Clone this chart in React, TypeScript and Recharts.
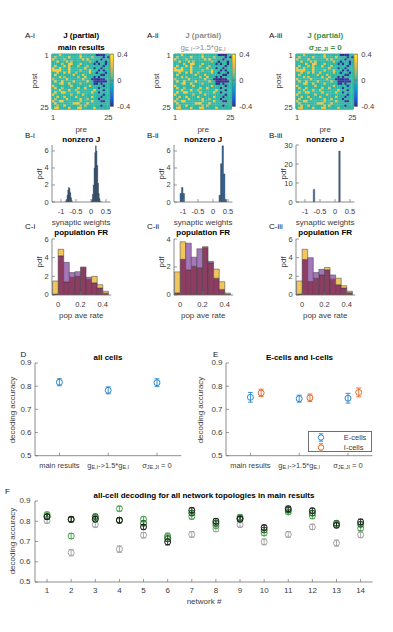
import React from 'react';
import {
  ScatterChart, Scatter, BarChart, Bar, Cell, XAxis, YAxis, ErrorBar, ReferenceArea, Legend,
} from 'recharts';

const FONT = '"Liberation Sans", Arial, Helvetica, sans-serif';
const INK = '#3c3c3c';
const FRAME = '#707070';
const GREY_TITLE = '#8f8f8f';
const GREEN_TITLE = '#3f8f3f';

// ---- A: J (partial), first 25x25 block of the weight matrix
// '.' = 0, 'y' strong E, 'o' weaker E, 'b' I weight  (groups of 5 columns)
const J_ROWS = [
  '...y.|.....|..o..|....b|bbb..',
  '.o...|..y..|..y..|..o..|..b.b',
  'y....|o....|...y.|y....|.b...',
  '..y..|.y.o.|.....|.o..b|...b.',
  '....o|..yy.|..y..|...b.|b..b.',
  '.y...|y.y..|.o...|o....|..b..',
  'y..y.|..y..|....y|...b.|.b...',
  'yyyy.|..y..|..o..|.y...|b.b..',
  '..y..|y.y..|o....|.y..b|...b.',
  '.y...|....y|...y.|.....|.bb..',
  '...y.|o....|.o..y|...b.|b....',
  'o....|.y...|...y.|..bbb|bbb..',
  '.y..y|....y|.....|y..bb|bbbb.',
  '...oy|..y..|..o..|...bb|.b...',
  'y....|...y.|.....|.y...|..b..',
  '.y..o|.....|.y..y|.....|b....',
  '...y.|..y..|o....|...y.|..b..',
  '.y..y|y....|.y...|..y..|b....',
  'y....|...o.|...y.|.....|..b..',
  '..y..|y....|y....|..y..|.b...',
  '.o...|.y...|..y..|o....|b....',
  'y..yy|.....|..o..|..y..|.bb..',
  '.y...|....y|yy...|y....|.....',
  '..o..|y....|..o.o|.....|.b...',
  '.yy..|..y..|.yy..|...y.|.....',
];
const J_LEVEL_MAIN: Record<string, number> = { '.': 0, y: 0.3, o: 0.2, b: -0.38 };
const J_LEVEL_GEI: Record<string, number> = { '.': 0, y: 0.3, o: 0.2, b: -0.4 };
const J_LEVEL_SIG0: Record<string, number> = { '.': 0, y: 0.27, o: 0.27, b: -0.38 };
const CB_TICKS = [-0.4, 0, 0.4];
const CELL_TICKS = [1, 25];

// ---- B: nonzero J histograms (bin centre, pdf)
const WEIGHT_TICKS = [-1, -0.5, 0, 0.5];
const W_MAIN_X = [-0.8375, -0.8125, -0.7875, -0.7625, -0.7375, -0.7125, -0.6875, -0.6625, -0.6375,
  0.0125, 0.0375, 0.0625, 0.0875, 0.1125, 0.1375, 0.1625, 0.1875, 0.2125, 0.2375, 0.2625, 0.2875, 0.3125];
const W_MAIN_PDF = [0.1, 0.3, 0.8, 1.4, 1.7, 1.6, 1.1, 0.5, 0.15,
  0.1, 0.3, 0.9, 2.0, 4.0, 5.8, 6.6, 6.0, 4.3, 2.2, 1.0, 0.4, 0.1];
const W_GEI_X = [-1.075, -1.025, -0.975, 0.225, 0.275, 0.325, 0.375, 0.425];
const W_GEI_PDF = [1.0, 1.7, 1.0, 0.8, 4.5, 6.6, 3.3, 0.3];
const W_SIG0_X = [-0.75, -0.7, -0.65, 0.1, 0.15, 0.2];
const W_SIG0_PDF = [0, 6.6, 0, 0, 26.8, 0];

// ---- C: population FR histograms (yellow / purple)
const FR_BINS = [-0.025, 0.025, 0.075, 0.125, 0.175, 0.225, 0.275, 0.325, 0.375, 0.425];
const FR_TICKS = [0, 0.2, 0.4];
const FR_MAIN_Y = [1.5, 4.9, 1.4, 1.9, 2.0, 3.0, 1.7, 2.0, 1.1, 0.4];
const FR_MAIN_P = [0.1, 4.2, 3.5, 2.4, 2.5, 2.95, 1.9, 1.3, 0.75, 0.2];
const FR_GEI_Y = [1.65, 3.8, 1.8, 2.05, 1.95, 3.45, 2.3, 1.85, 0.95, 0.14];
const FR_GEI_P = [0.15, 2.55, 3.7, 2.7, 3.3, 3.4, 2.4, 1.2, 0.4, 0.05];
const FR_SIG0_Y = [1.5, 4.9, 1.45, 1.8, 2.15, 2.95, 1.7, 1.8, 1.0, 0.4];
const FR_SIG0_P = [0.1, 3.8, 4.0, 2.4, 2.75, 2.7, 2.15, 1.1, 0.75, 0.25];

// ---- D / E: decoding accuracy per condition
const CONDITIONS = [1, 2, 3];
const ACC_TICKS = [0.5, 0.6, 0.7, 0.8, 0.9];
const ALL_ACC = [0.817, 0.782, 0.815];
const ALL_ERR = [0.015, 0.015, 0.017];
const E_ACC = [0.752, 0.746, 0.748];
const E_ERR = [0.021, 0.015, 0.021];
const I_ACC = [0.771, 0.75, 0.773];
const I_ERR = [0.016, 0.016, 0.019];
const I_DODGE = 0.22;

// ---- F: all-cell decoding per network
const NETWORKS = [1, 2, 3, 4, 5, 6, 7, 8, 9, 10, 11, 12, 13, 14];
const NET_MAIN = [0.822, 0.81, 0.81, 0.805, 0.772, 0.698, 0.854, 0.8, 0.81, 0.769, 0.862, 0.852, 0.78, 0.797];
const NET_MAIN_ERR = [0.012, 0.012, 0.012, 0.013, 0.012, 0.015, 0.012, 0.013, 0.012, 0.012, 0.012, 0.012, 0.012, 0.013];
const NET_DK = [0.823, 0.808, 0.823, 0.805, 0.79, 0.714, 0.84, 0.79, 0.815, 0.757, 0.855, 0.84, 0.79, 0.785];
const NET_DK_ERR = [0.012, 0.012, 0.012, 0.012, 0.012, 0.014, 0.012, 0.012, 0.012, 0.012, 0.012, 0.012, 0.012, 0.012];
const NET_LT = [0.833, 0.727, 0.816, 0.862, 0.81, 0.727, 0.823, 0.778, 0.82, 0.742, 0.846, 0.826, 0.783, 0.765];
const NET_LT_ERR = [0.012, 0.013, 0.012, 0.012, 0.012, 0.014, 0.012, 0.012, 0.012, 0.013, 0.012, 0.013, 0.013, 0.012];
const NET_GEI = [0.803, 0.645, 0.783, 0.662, 0.731, 0.722, 0.735, 0.762, 0.783, 0.698, 0.735, 0.772, 0.692, 0.733];
const NET_GEI_ERR = [0.012, 0.016, 0.012, 0.016, 0.013, 0.015, 0.014, 0.013, 0.012, 0.014, 0.014, 0.013, 0.015, 0.014];

// ---------------------------------------------------------------------------

const PARULA = ['#352a87', '#0f5cdd', '#1481d6', '#06a4ca', '#2eb7a4', '#87bf77', '#d1bb59', '#fec832', '#f9fb0e'];
const rgbOf = (h: string) => [1, 3, 5].map((i) => parseInt(h.slice(i, i + 2), 16));
function parula(v: number) {
  const t = Math.max(0, Math.min(1, (v + 0.4) / 0.8)) * (PARULA.length - 1);
  const i = Math.min(PARULA.length - 2, Math.floor(t));
  const f = t - i;
  const a = rgbOf(PARULA[i]);
  const b = rgbOf(PARULA[i + 1]);
  return `rgb(${a.map((c, k) => Math.round(c + (b[k] - c) * f)).join(',')})`;
}

const heatCells = (levels: Record<string, number>) =>
  J_ROWS.flatMap((row, r) =>
    row.replace(/\|/g, '').split('').map((ch, c) => ({ c: c + 1, r: r + 1, v: levels[ch] ?? 0 })),
  );

const AXIS = {
  interval: 0,
  tickSize: -3,
  tickMargin: 3,
  axisLine: { stroke: FRAME, strokeWidth: 0.8 },
  tickLine: { stroke: FRAME, strokeWidth: 0.7 },
};

const tickText = (dx: number, dy: number, anchor: string, size: number, fmt: (v: number) => string = (v) => String(v)) =>
  (p: any) => (
    <text x={p.x + dx} y={p.y + dy} textAnchor={anchor} dominantBaseline="central" fontSize={size} fill={INK} fontFamily={FONT}>
      {fmt(p.payload.value)}
    </text>
  );

type Seg = [string, boolean?];
const segs = (parts: Seg[], sub: number) =>
  parts.map(([t, s], i) => (
    <tspan key={i} fontSize={s ? sub : undefined} dy={s ? 2 : i > 0 && parts[i - 1][1] ? -2 : 0}>{t}</tspan>
  ));

const CONDITION_LABELS: Seg[][] = [
  [['main results']],
  [['g'], ['E,I', true], ['->1.5*g'], ['E,I', true]],
  [['σ'], ['JE,JI', true], [' = 0']],
];

const condTick = (p: any) => (
  <text x={p.x} y={p.y + 9.5} textAnchor="middle" dominantBaseline="central" fontSize={7.5} fill={INK} fontFamily={FONT}>
    {segs(CONDITION_LABELS[p.payload.value - 1], 5.5)}
  </text>
);

const ring = (p: any) => <circle cx={p.cx} cy={p.cy} r={3} fill="none" stroke={p.fill} strokeWidth={1} />;

// ---------------------------------------------------------------------------
const HM_TOP = 53.5;
const HM_W = 57.5;
const HM_H = 55;

function Heatmap({ ox, levels, gid }: { ox: number; levels: Record<string, number>; gid: string }) {
  const x0 = 52.3 + ox;
  const L = 16, T = 2, R = 6, B = 14;
  const cw = HM_W / 25, ch = HM_H / 25;
  const cells = heatCells(levels);
  const cb = [{ k: 'cb', span: [-0.4, 0.4] }];
  return (
    <>
      <div style={{ position: 'absolute', left: x0 - L, top: HM_TOP - T }}>
        <ScatterChart width={HM_W + L + R} height={HM_H + T + B} margin={{ top: T, right: R, bottom: 0, left: 0 }}>
          <XAxis type="number" dataKey="c" domain={[0.5, 25.5]} ticks={CELL_TICKS} allowDataOverflow height={B}
            tick={tickText(0, 8.8, 'middle', 7.5)} {...AXIS} />
          <YAxis type="number" dataKey="r" domain={[0.5, 25.5]} ticks={CELL_TICKS} reversed allowDataOverflow width={L}
            tick={tickText(-3.3, 0, 'end', 7.5)} {...AXIS} />
          <Scatter data={cells} isAnimationActive={false}
            shape={(p: any) => (
              <rect x={p.cx - cw / 2} y={p.cy - ch / 2} width={cw + 0.2} height={ch + 0.2} fill={parula(p.payload.v)} />
            )} />
          <ReferenceArea x1={0.5} x2={25.5} y1={0.5} y2={25.5} fill="none" stroke={FRAME} strokeWidth={0.8} ifOverflow="visible" />
        </ScatterChart>
      </div>
      <div style={{ position: 'absolute', left: x0 + HM_W + 0.3, top: HM_TOP - 4 }}>
        <BarChart width={3.5 + 22} height={52.5 + 8} data={cb} margin={{ top: 4, right: 0, bottom: 4, left: 0 }} barCategoryGap={0}>
          <defs>
            <linearGradient id={gid} x1="0" y1="1" x2="0" y2="0">
              {PARULA.map((c, i) => <stop key={i} offset={i / (PARULA.length - 1)} stopColor={c} />)}
            </linearGradient>
          </defs>
          <XAxis dataKey="k" hide />
          <YAxis orientation="right" type="number" domain={[-0.4, 0.4]} ticks={CB_TICKS} allowDataOverflow width={22}
            tick={tickText(3.8, 0, 'start', 7.5)} {...AXIS} axisLine={false} />
          <Bar dataKey="span" fill={`url(#${gid})`} stroke={FRAME} strokeWidth={0.6} barSize={3.49} isAnimationActive={false} />
        </BarChart>
      </div>
    </>
  );
}

function WeightHist({ ox, xs, pdf, yMax, yTicks, bin }: any) {
  const L = 16, T = 3, R = 8, B = 14;
  const w = 58.5, h = 57;
  const data = xs.map((x: number, i: number) => ({ x, pdf: pdf[i] }));
  return (
    <div style={{ position: 'absolute', left: 52.3 + ox - L, top: 145 - T }}>
      <BarChart width={w + L + R} height={h + T + B} data={data} margin={{ top: T, right: R, bottom: 0, left: 0 }} barGap={0} barCategoryGap={0}>
        <XAxis type="number" dataKey="x" domain={[-1.3, 0.65]} ticks={WEIGHT_TICKS} allowDataOverflow height={B}
          tick={tickText(0, 9.7, 'middle', 7.5)} {...AXIS} />
        <YAxis type="number" domain={[0, yMax]} ticks={yTicks} allowDataOverflow width={L}
          tick={tickText(-3.3, 0, 'end', 7.5)} {...AXIS} />
        <Bar dataKey="pdf" fill="#3f6f9e" stroke="#1c2430" strokeWidth={0.35} barSize={bin * (w / 1.95) - 0.01} isAnimationActive={false} />
      </BarChart>
    </div>
  );
}

const FR_YELLOW = '#f1c65c';
const FR_PURPLE = '#a676bb';
const FR_BOTH = '#8d3d62';

function RateHist({ ox, yel, pur, yMax, yTicks }: any) {
  const L = 16, T = 3, R = 8, B = 14;
  const w = 59.2, h = 56;
  const rows = FR_BINS.map((x, i) => ({
    x,
    both: Math.min(yel[i], pur[i]),
    extra: Math.abs(yel[i] - pur[i]),
    top: yel[i] >= pur[i] ? FR_YELLOW : FR_PURPLE,
  }));
  return (
    <div style={{ position: 'absolute', left: 52.3 + ox - L, top: 239 - T }}>
      <BarChart width={w + L + R} height={h + T + B} data={rows} margin={{ top: T, right: R, bottom: 0, left: 0 }} barGap={0} barCategoryGap={0}>
        <XAxis type="number" dataKey="x" domain={[-0.055, 0.475]} ticks={FR_TICKS} allowDataOverflow height={B}
          tick={tickText(0, 9.5, 'middle', 7.5)} {...AXIS} />
        <YAxis type="number" domain={[0, yMax]} ticks={yTicks} allowDataOverflow width={L}
          tick={tickText(-3.3, 0, 'end', 7.5)} {...AXIS} />
        <Bar dataKey="both" stackId="h" fill={FR_BOTH} stroke="#3a3a3a" strokeWidth={0.5} barSize={0.05 * (w / 0.53) - 0.01} isAnimationActive={false} />
        <Bar dataKey="extra" stackId="h" stroke="#3a3a3a" strokeWidth={0.5} barSize={0.05 * (w / 0.53) - 0.01} isAnimationActive={false}>
          {rows.map((r, i) => <Cell key={i} fill={r.top} />)}
        </Bar>
      </BarChart>
    </div>
  );
}

const BLUE = '#2a86cc';
const ORANGE = '#e0692e';

const EiLegend = (props: any) => (
  <div style={{ width: 64, height: 21, border: `0.8px solid ${FRAME}`, background: '#fff', boxSizing: 'border-box', paddingTop: 1 }}>
    {(props.payload || []).map((e: any) => (
      <div key={e.value} style={{ display: 'flex', alignItems: 'center', height: 9.2 }}>
        <svg width={26} height={9}>
          <line x1={12} x2={12} y1={0.8} y2={8.2} stroke={e.color} strokeWidth={0.9} />
          <line x1={9.8} x2={14.2} y1={0.8} y2={0.8} stroke={e.color} strokeWidth={0.9} />
          <line x1={9.8} x2={14.2} y1={8.2} y2={8.2} stroke={e.color} strokeWidth={0.9} />
          <circle cx={12} cy={4.5} r={2.7} fill="#fff" stroke={e.color} strokeWidth={1} />
        </svg>
        <span style={{ fontFamily: FONT, fontSize: 7.5, color: INK, marginLeft: 9 }}>{e.value}</span>
      </div>
    ))}
  </div>
);

function CondChart({ x0, children, legend }: any) {
  const L = 30, T = 5, R = 4, B = 16;
  const w = 146.4, h = 92.7;
  return (
    <div style={{ position: 'absolute', left: x0 - L, top: 363.3 - T }}>
      <ScatterChart width={w + L + R} height={h + T + B} margin={{ top: T, right: R, bottom: 0, left: 0 }}>
        <XAxis type="number" dataKey="x" domain={[0.5, 3.5]} ticks={CONDITIONS} allowDataOverflow height={B} tick={condTick} {...AXIS} />
        <XAxis xAxisId="top" orientation="top" type="number" domain={[0.5, 3.5]} ticks={CONDITIONS} allowDataOverflow height={0} tick={false} {...AXIS} />
        <YAxis type="number" dataKey="y" domain={[0.5, 0.9]} ticks={ACC_TICKS} allowDataOverflow width={L}
          tick={tickText(-3.5, 0, 'end', 8, (v) => v.toFixed(1))} {...AXIS} />
        <YAxis yAxisId="right" orientation="right" type="number" domain={[0.5, 0.9]} ticks={ACC_TICKS} allowDataOverflow width={0} tick={false} {...AXIS} />
        {children}
        {legend}
      </ScatterChart>
    </div>
  );
}

const allData = CONDITIONS.map((c, i) => ({ x: c, y: ALL_ACC[i], err: ALL_ERR[i] }));
const eData = CONDITIONS.map((c, i) => ({ x: c, y: E_ACC[i], err: E_ERR[i] }));
const iData = CONDITIONS.map((c, i) => ({ x: c + I_DODGE, y: I_ACC[i], err: I_ERR[i] }));

const NET_SERIES = [
  { name: 'g_EI scaled', acc: NET_GEI, err: NET_GEI_ERR, color: '#a3a3a3' },
  { name: 'sigma 0 (b)', acc: NET_LT, err: NET_LT_ERR, color: '#4aa24a' },
  { name: 'sigma 0 (a)', acc: NET_DK, err: NET_DK_ERR, color: '#22622a' },
  { name: 'main results', acc: NET_MAIN, err: NET_MAIN_ERR, color: '#1c1c1c' },
];

function NetworkChart() {
  const L = 30, T = 5, R = 4, B = 16;
  const x0 = 35, w = 337.7, h = 81;
  return (
    <div style={{ position: 'absolute', left: x0 - L, top: 500.7 - T }}>
      <ScatterChart width={w + L + R} height={h + T + B} margin={{ top: T, right: R, bottom: 0, left: 0 }}>
        <XAxis type="number" dataKey="x" domain={[0.5, 14.5]} ticks={NETWORKS} allowDataOverflow height={B}
          tick={tickText(0, 8.5, 'middle', 8)} {...AXIS} />
        <XAxis xAxisId="top" orientation="top" type="number" domain={[0.5, 14.5]} ticks={NETWORKS} allowDataOverflow height={0} tick={false} {...AXIS} />
        <YAxis type="number" dataKey="y" domain={[0.5, 0.9]} ticks={ACC_TICKS} allowDataOverflow width={L}
          tick={tickText(-4.5, 0, 'end', 8, (v) => v.toFixed(1))} {...AXIS} />
        <YAxis yAxisId="right" orientation="right" type="number" domain={[0.5, 0.9]} ticks={ACC_TICKS} allowDataOverflow width={0} tick={false} {...AXIS} />
        {NET_SERIES.map((s) => (
          <Scatter key={s.name} name={s.name} data={NETWORKS.map((n, i) => ({ x: n, y: s.acc[i], err: s.err[i] }))}
            fill={s.color} shape={ring} isAnimationActive={false}>
            <ErrorBar dataKey="err" direction="y" width={2.5} stroke={s.color} strokeWidth={0.9} />
          </Scatter>
        ))}
      </ScatterChart>
    </div>
  );
}

function Txt({ x, y, children, anchor = 'middle', size = 8, weight = 400, color = INK, rotate = false }: any) {
  return (
    <text x={x} y={y} textAnchor={anchor} dominantBaseline="central" fontSize={size} fontWeight={weight} fill={color}
      fontFamily={FONT} transform={rotate ? `rotate(-90 ${x} ${y})` : undefined}>
      {children}
    </text>
  );
}

const A_TITLES = [
  { color: '#000', l2: [['main results']] as Seg[], bold2: true },
  { color: GREY_TITLE, l2: [['g'], ['E,I', true], ['->1.5*g'], ['E,I', true]] as Seg[], bold2: false },
  { color: GREEN_TITLE, l2: [['σ'], ['JE,JI', true], [' = 0']] as Seg[], bold2: true },
];
const ROMAN = ['i', 'ii', 'iii'];

function Overlay() {
  return (
    <svg width={393} height={632} style={{ position: 'absolute', left: 0, top: 0, pointerEvents: 'none' }}>
      {[0, 1, 2].map((k) => {
        const ox = 122 * k;
        const cx = 81.2 + ox;
        const t = A_TITLES[k];
        return (
          <g key={k}>
            <Txt x={25 + ox} y={35} anchor="start" color="#111">{`A-${ROMAN[k]}`}</Txt>
            <Txt x={cx} y={35} weight={700} color={t.color}>J (partial)</Txt>
            <Txt x={cx} y={46.5} weight={t.bold2 ? 700 : 400} color={t.color}>{segs(t.l2, 6)}</Txt>
            <Txt x={34 + ox} y={81} rotate>post</Txt>
            <Txt x={cx} y={129}>pre</Txt>
            <Txt x={25 + ox} y={135} anchor="start" color="#111">{`B-${ROMAN[k]}`}</Txt>
            <Txt x={cx} y={139.5} weight={700} color="#000">nonzero J</Txt>
            <Txt x={39 + ox} y={174} rotate>pdf</Txt>
            <Txt x={cx} y={222}>synaptic weights</Txt>
            <Txt x={25 + ox} y={226.5} anchor="start" color="#111">{`C-${ROMAN[k]}`}</Txt>
            <Txt x={cx} y={232.5} weight={700} color="#000">population FR</Txt>
            <Txt x={39 + ox} y={262} rotate>pdf</Txt>
            <Txt x={cx} y={315}>pop ave rate</Txt>
          </g>
        );
      })}
      <Txt x={20.5} y={354} anchor="start" color="#111">D</Txt>
      <Txt x={108} y={357} weight={700} color="#000">all cells</Txt>
      <Txt x={12} y={410} rotate>decoding accuracy</Txt>
      <Txt x={213} y={354} anchor="start" color="#111">E</Txt>
      <Txt x={299.5} y={357} weight={700} color="#000">E-cells and I-cells</Txt>
      <Txt x={200} y={410} rotate>decoding accuracy</Txt>
      <Txt x={5} y={491} anchor="start" color="#111">F</Txt>
      <Txt x={204} y={495} weight={700} color="#000">all-cell decoding for all network topologies in main results</Txt>
      <Txt x={12.5} y={541} rotate>decoding accuracy</Txt>
      <Txt x={204} y={601}>network #</Txt>
    </svg>
  );
}

export default function App() {
  return (
    <div style={{ position: 'fixed', left: 0, top: 0, width: 393, height: 632, background: '#fff', overflow: 'hidden' }}>
      <Heatmap ox={0} levels={J_LEVEL_MAIN} gid="parulaA" />
      <Heatmap ox={122} levels={J_LEVEL_GEI} gid="parulaB" />
      <Heatmap ox={244} levels={J_LEVEL_SIG0} gid="parulaC" />

      <WeightHist ox={0} xs={W_MAIN_X} pdf={W_MAIN_PDF} yMax={6.7} yTicks={[0, 2, 4, 6]} bin={0.025} />
      <WeightHist ox={122} xs={W_GEI_X} pdf={W_GEI_PDF} yMax={6.7} yTicks={[0, 2, 4, 6]} bin={0.05} />
      <WeightHist ox={244} xs={W_SIG0_X} pdf={W_SIG0_PDF} yMax={30} yTicks={[0, 10, 20, 30]} bin={0.05} />

      <RateHist ox={0} yel={FR_MAIN_Y} pur={FR_MAIN_P} yMax={6} yTicks={[0, 2, 4, 6]} />
      <RateHist ox={122} yel={FR_GEI_Y} pur={FR_GEI_P} yMax={4} yTicks={[0, 2, 4]} />
      <RateHist ox={244} yel={FR_SIG0_Y} pur={FR_SIG0_P} yMax={6} yTicks={[0, 2, 4, 6]} />

      <CondChart x0={35}>
        <Scatter name="all cells" data={allData} fill={BLUE} shape={ring} isAnimationActive={false}>
          <ErrorBar dataKey="err" direction="y" width={2.5} stroke={BLUE} strokeWidth={0.9} />
        </Scatter>
      </CondChart>
      <CondChart x0={226.3}
        legend={<Legend layout="vertical" align="center" verticalAlign="middle" content={EiLegend}
          wrapperStyle={{ left: 111.5, top: 73, width: 64, height: 21 }} />}>
        <Scatter name="E-cells" data={eData} fill={BLUE} shape={ring} isAnimationActive={false}>
          <ErrorBar dataKey="err" direction="y" width={2.5} stroke={BLUE} strokeWidth={0.9} />
        </Scatter>
        <Scatter name="I-cells" data={iData} fill={ORANGE} shape={ring} isAnimationActive={false}>
          <ErrorBar dataKey="err" direction="y" width={2.5} stroke={ORANGE} strokeWidth={0.9} />
        </Scatter>
      </CondChart>

      <NetworkChart />
      <Overlay />
    </div>
  );
}
